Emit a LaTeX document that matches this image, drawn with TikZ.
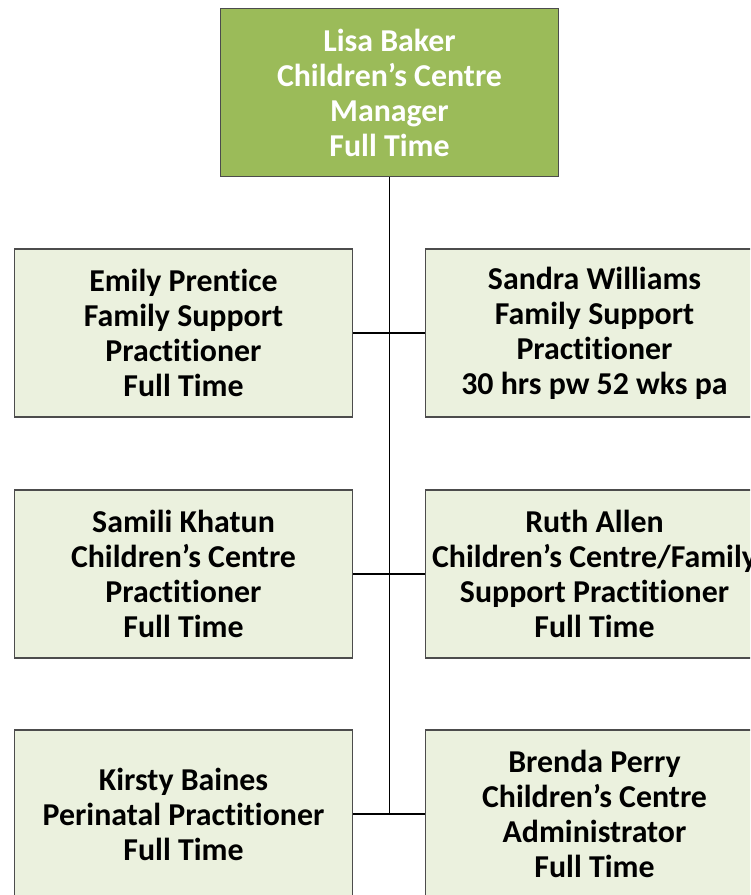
\documentclass[tikz,border=0pt]{standalone}
\usepackage{fontspec}
\setmainfont[Ligatures=NoCommon]{Carlito}
\begin{document}
\begin{tikzpicture}[x=0.75pt,y=-0.75pt,
  staff/.style={draw=black!70,line width=0.9pt,fill=boxgreen,minimum width=254pt,minimum height=126pt,
    inner sep=0pt,align=center,font=\fontsize{23.9}{26.25}\selectfont\bfseries},
  head/.style={staff,fill=headgreen,text=white}]
\definecolor{headgreen}{HTML}{9BBB59}
\definecolor{boxgreen}{HTML}{EBF1DE}
\useasboundingbox (0,0) rectangle (750,895);
\clip (0,0) rectangle (750,895);

% Manager
\node[head] (lisa) at (389.5,92.5) {Lisa Baker\\Children’s Centre\\Manager\\Full Time};

% Left column
\node[staff] (emily) at (183.5,333) {Emily Prentice\\Family Support\\Practitioner\\Full Time};
\node[staff] (samili) at (183.5,574) {Samili Khatun\\Children’s Centre\\Practitioner\\Full Time};
\node[staff] (kirsty) at (183.5,814) {Kirsty Baines\\Perinatal Practitioner\\Full Time};

% Right column
\node[staff] (sandra) at (594.5,333) {Sandra Williams\\Family Support\\Practitioner\\30 hrs pw 52 wks pa};
\node[staff] (ruth) at (594.5,574) {Ruth Allen\\Children’s Centre/Family\\Support Practitioner\\Full Time};
\node[staff] (brenda) at (594.5,814) {Brenda Perry\\Children’s Centre\\Administrator\\Full Time};

% Connectors
\coordinate (spine) at (lisa.south |- kirsty.east);
\draw[line width=1pt] (lisa.south) -- (spine);
\draw[line width=1pt] (emily.east) -- (sandra.west);
\draw[line width=1pt] (samili.east) -- (ruth.west);
\draw[line width=1pt] (kirsty.east) -- (brenda.west);
\end{tikzpicture}
\end{document}
